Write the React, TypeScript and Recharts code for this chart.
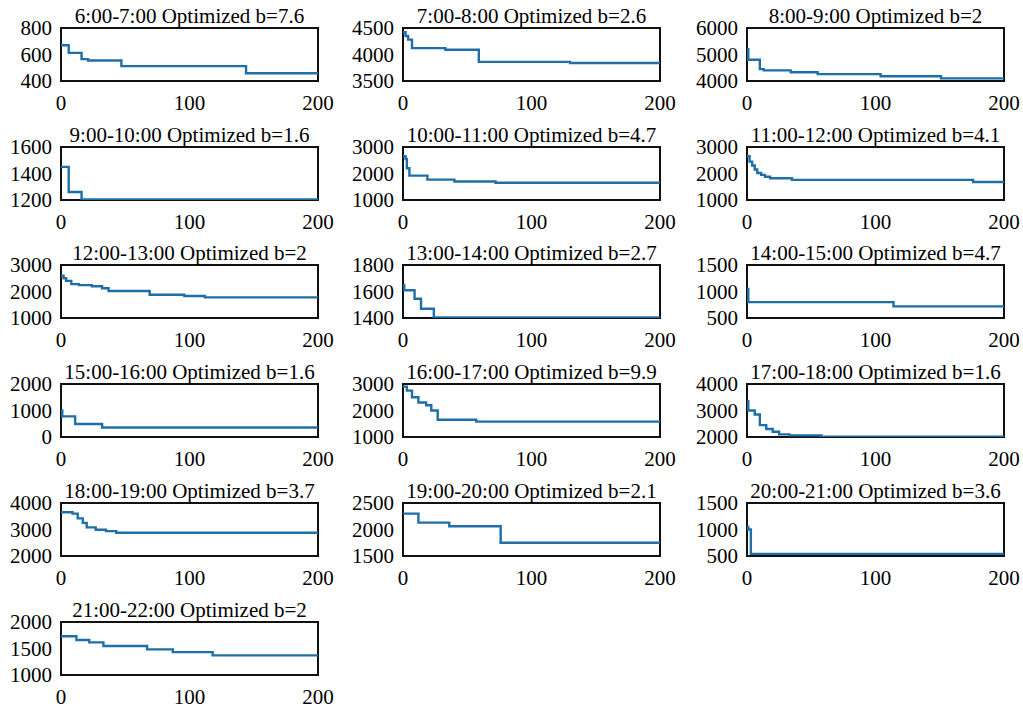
import { LineChart, Line, XAxis, YAxis, ReferenceArea } from "recharts";

const titles = [
  "6:00-7:00 Optimized b=7.6",
  "7:00-8:00 Optimized b=2.6",
  "8:00-9:00 Optimized b=2",
  "9:00-10:00 Optimized b=1.6",
  "10:00-11:00 Optimized b=4.7",
  "11:00-12:00 Optimized b=4.1",
  "12:00-13:00 Optimized b=2",
  "13:00-14:00 Optimized b=2.7",
  "14:00-15:00 Optimized b=4.7",
  "15:00-16:00 Optimized b=1.6",
  "16:00-17:00 Optimized b=9.9",
  "17:00-18:00 Optimized b=1.6",
  "18:00-19:00 Optimized b=3.7",
  "19:00-20:00 Optimized b=2.1",
  "20:00-21:00 Optimized b=3.6",
  "21:00-22:00 Optimized b=2",
];

// y axis range [min, max] per panel
const yRanges = [
  [400, 800], [3500, 4500], [4000, 6000],
  [1200, 1600], [1000, 3000], [1000, 3000],
  [1000, 3000], [1400, 1800], [500, 1500],
  [0, 2000], [1000, 3000], [2000, 4000],
  [2000, 4000], [1500, 2500], [500, 1500],
  [1000, 2000],
];

// iterations where the best value changes
const iterSteps = [
  [0, 6, 16, 21, 47, 144, 200],
  [0, 2, 4, 7, 33, 59, 130, 200],
  [0, 1, 10, 13, 34, 55, 104, 151, 200],
  [0, 6, 16, 200],
  [0, 2, 3, 5, 19, 40, 72, 200],
  [0, 2, 4, 6, 8, 11, 14, 18, 35, 176, 200],
  [0, 2, 4, 8, 14, 24, 32, 37, 69, 96, 112, 200],
  [0, 1, 9, 14, 24, 200],
  [0, 1, 114, 200],
  [0, 1, 11, 32, 200],
  [0, 3, 7, 12, 18, 22, 27, 57, 200],
  [0, 1, 6, 10, 15, 20, 25, 33, 58, 200],
  [0, 9, 13, 17, 20, 27, 35, 43, 200],
  [0, 12, 36, 76, 200],
  [0, 1, 3, 200],
  [0, 12, 22, 33, 67, 87, 118, 200],
];

// best objective value at those iterations
const costSteps = [
  [670, 612, 565, 555, 512, 458, 458],
  [4420, 4350, 4280, 4120, 4090, 3860, 3840, 3840],
  [5200, 4800, 4450, 4400, 4330, 4260, 4180, 4100, 4100],
  [1450, 1260, 1205, 1205],
  [2650, 2550, 2200, 1920, 1770, 1700, 1650, 1650],
  [2650, 2450, 2300, 2150, 2020, 1950, 1880, 1820, 1760, 1680, 1680],
  [2600, 2500, 2400, 2280, 2240, 2200, 2120, 2020, 1880, 1830, 1780, 1780],
  [1650, 1610, 1545, 1470, 1405, 1405],
  [1050, 800, 720, 720],
  [1000, 780, 490, 360, 360],
  [2900, 2750, 2500, 2300, 2200, 2000, 1650, 1580, 1580],
  [3350, 3000, 2850, 2450, 2300, 2200, 2100, 2060, 2010, 2010],
  [3650, 3600, 3420, 3250, 3080, 2990, 2940, 2880, 2880],
  [2300, 2130, 2060, 1750, 1750],
  [1050, 1000, 540, 540],
  [1730, 1660, 1615, 1546, 1483, 1431, 1370, 1370],
];

const xTicks = [0, 100, 200];

const BOX_LEFT = [61, 403, 747];
const BOX_TOP = [28, 147, 265, 384, 503, 622];
const BOX_W = 257;
const BOX_H = 53;
const Y_AXIS_W = 70;
const PAD_TOP = 14;
const FONT = "'Liberation Serif', 'Times New Roman', serif";
const tickStyle = { fill: "#000", fontSize: 21, fontFamily: FONT };

function Panel({ i }: { i: number }) {
  const col = i % 3;
  const row = Math.floor(i / 3);
  const [lo, hi] = yRanges[i];
  const data = iterSteps[i].map((it, k) => ({ it, cost: costSteps[i][k] }));
  const boxLeft = BOX_LEFT[col];
  const boxTop = BOX_TOP[row];

  return (
    <>
      <div style={{ position: "absolute", left: boxLeft - Y_AXIS_W, top: boxTop - PAD_TOP }}>
        <LineChart
          width={Y_AXIS_W + BOX_W + 16}
          height={PAD_TOP + BOX_H + 34}
          data={data}
          margin={{ top: PAD_TOP, right: 16, bottom: 0, left: 0 }}
        >
          <XAxis
            dataKey="it"
            type="number"
            domain={[0, 200]}
            ticks={xTicks}
            interval={0}
            axisLine={false}
            tickLine={false}
            tickSize={0}
            tickMargin={14}
            height={34}
            tick={tickStyle}
          />
          <YAxis
            type="number"
            domain={[lo, hi]}
            ticks={[lo, (lo + hi) / 2, hi]}
            interval={0}
            allowDataOverflow
            axisLine={false}
            tickLine={false}
            tickSize={0}
            tickMargin={9}
            width={Y_AXIS_W}
            tick={tickStyle}
          />
          <ReferenceArea
            x1={0}
            x2={200}
            y1={lo}
            y2={hi}
            fill="none"
            fillOpacity={0}
            stroke="#111"
            strokeOpacity={1}
            strokeWidth={2}
          />
          <Line
            type="stepAfter"
            dataKey="cost"
            stroke="#1f6fa6"
            strokeWidth={2.4}
            dot={false}
            activeDot={false}
            isAnimationActive={false}
          />
        </LineChart>
      </div>
      <div
        style={{
          position: "absolute",
          left: boxLeft - 20,
          width: BOX_W + 40,
          top: boxTop - 22,
          textAlign: "center",
          fontFamily: FONT,
          fontSize: 21,
          lineHeight: "21px",
          whiteSpace: "nowrap",
          color: "#000",
        }}
      >
        {titles[i]}
      </div>
    </>
  );
}

export default function App() {
  return (
    <div
      style={{
        position: "absolute",
        left: 0,
        top: 0,
        width: 1023,
        height: 710,
        background: "#fff",
        overflow: "hidden",
      }}
    >
      {titles.map((_, i) => (
        <Panel key={i} i={i} />
      ))}
    </div>
  );
}
